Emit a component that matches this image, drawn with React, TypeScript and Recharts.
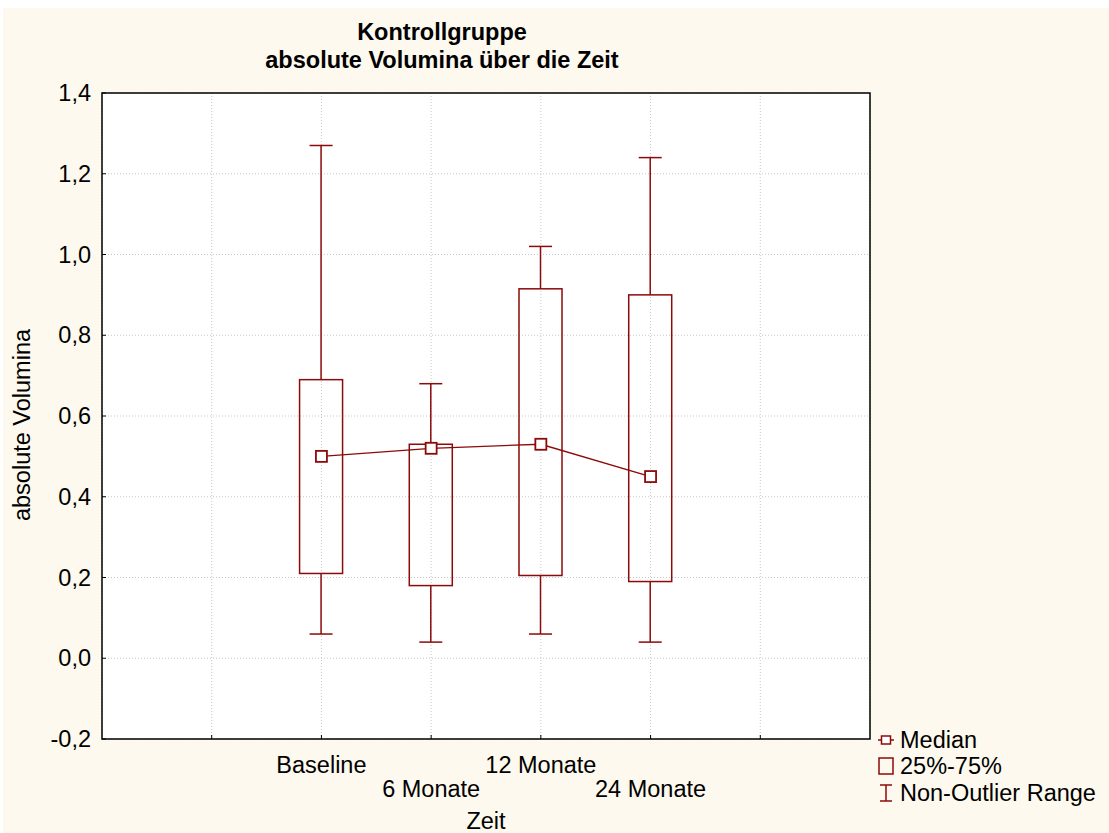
import React from 'react'
import { ComposedChart, Bar, Line, XAxis, YAxis, CartesianGrid, ReferenceArea } from 'recharts'

const categories = ['Baseline', '6 Monate', '12 Monate', '24 Monate']
const positions = [2, 3, 4, 5]
const minValues = [0.06, 0.04, 0.06, 0.04]
const q1Values = [0.21, 0.18, 0.205, 0.19]
const medianValues = [0.5, 0.52, 0.53, 0.45]
const q3Values = [0.69, 0.53, 0.915, 0.9]
const maxValues = [1.27, 0.68, 1.02, 1.24]
const yTicks = [-0.2, 0, 0.2, 0.4, 0.6, 0.8, 1.0, 1.2, 1.4]
const xTicks = [1, 2, 3, 4, 5, 6]

const RED = '#8C0A0A'
const FONT = '"Liberation Sans", Arial, sans-serif'
const FS = 23.5

const data = categories.map((name, i) => ({
  name,
  x: positions[i],
  min: minValues[i],
  q1: q1Values[i],
  median: medianValues[i],
  q3: q3Values[i],
  max: maxValues[i],
}))

const BoxShape = (props: any) => {
  const { x, y, width, height, payload } = props
  const top = Math.min(y, y + height)
  const bottom = Math.max(y, y + height)
  const span = payload.max - payload.min
  const toPx = (v: number) => bottom - ((v - payload.min) / span) * (bottom - top)
  const cx = x + width / 2
  const yq1 = toPx(payload.q1)
  const yq3 = toPx(payload.q3)
  const cap = 11.5
  return (
    <g stroke={RED} strokeWidth={1.5} fill="none">
      <line x1={cx} x2={cx} y1={top} y2={yq3} />
      <line x1={cx} x2={cx} y1={yq1} y2={bottom} />
      <line x1={cx - cap} x2={cx + cap} y1={top} y2={top} />
      <line x1={cx - cap} x2={cx + cap} y1={bottom} y2={bottom} />
      <rect x={x} y={yq3} width={width} height={yq1 - yq3} fill="none" />
    </g>
  )
}

const MedianDot = (props: any) => {
  const { cx, cy } = props
  return <rect x={cx - 5.5} y={cy - 5.5} width={11} height={11} fill="#fff" stroke={RED} strokeWidth={1.8} />
}

const renderYTick = ({ x, y, payload }: any) => (
  <g key={`y-${payload.value}`}>
    <line x1={x} x2={x + 4} y1={y} y2={y} stroke="#000" strokeWidth={1} />
    <text x={x - 11} y={y} dy={8} textAnchor="end" fill="#000" style={{ fontSize: FS, fontFamily: FONT }}>
      {Number(payload.value).toFixed(1).replace('.', ',')}
    </text>
  </g>
)

const renderXTick = ({ x, y, payload }: any) => {
  const idx = positions.indexOf(payload.value)
  return (
    <g key={`x-${payload.value}`}>
      <line x1={x} x2={x} y1={y} y2={y - 4} stroke="#000" strokeWidth={1} />
      {idx >= 0 && (
        <text x={x} y={y + (idx % 2 === 0 ? 34 : 58)} textAnchor="middle" fill="#000" style={{ fontSize: FS, fontFamily: FONT }}>
          {categories[idx]}
        </text>
      )}
    </g>
  )
}

const legendRow: React.CSSProperties = { position: 'absolute', left: 874, display: 'flex', alignItems: 'center', fontFamily: FONT, fontSize: FS, color: '#000', lineHeight: '26px' }

export default function App() {
  return (
    <div style={{ position: 'absolute', left: 3, top: 8, width: 1106, height: 825, background: '#FDF9EE' }}>
      <ComposedChart width={1106} height={825} data={data} margin={{ top: 85, right: 239, bottom: 0, left: 0 }}>
        <CartesianGrid fill="#fff" stroke="#c8c8c8" strokeDasharray="1 2" />
        <XAxis dataKey="x" type="number" domain={[0, 7]} ticks={xTicks} interval={0} height={94} tickSize={0} tickMargin={0} tickLine={false} axisLine={false} tick={renderXTick} />
        <YAxis type="number" domain={[-0.2, 1.4]} ticks={yTicks} interval={0} width={99} tickSize={0} tickMargin={0} tickLine={false} axisLine={false} tick={renderYTick} />
        <ReferenceArea x1={0} x2={7} y1={-0.2} y2={1.4} fill="none" stroke="#000" strokeWidth={1.5} ifOverflow="visible" />
        <Bar dataKey={(d: any) => [d.min, d.max]} barSize={43} shape={<BoxShape />} isAnimationActive={false} />
        <Line dataKey="median" stroke={RED} strokeWidth={1.3} dot={<MedianDot />} activeDot={false} isAnimationActive={false} />
        <text x={439} y={32} textAnchor="middle" style={{ fontSize: 23.5, fontWeight: 'bold', fontFamily: FONT }}>Kontrollgruppe</text>
        <text x={439} y={60} textAnchor="middle" style={{ fontSize: 23.5, fontWeight: 'bold', fontFamily: FONT }}>absolute Volumina über die Zeit</text>
        <text x={19} y={417} textAnchor="middle" dy={8} transform="rotate(-90 19 417)" style={{ fontSize: FS, fontFamily: FONT }}>absolute Volumina</text>
        <text x={483} y={821} textAnchor="middle" style={{ fontSize: FS, fontFamily: FONT }}>Zeit</text>
      </ComposedChart>
      <div style={{ ...legendRow, top: 719 }}>
        <svg width={18} height={16} style={{ marginRight: 5 }}>
          <line x1={1} x2={17} y1={8} y2={8} stroke={RED} strokeWidth={1.5} />
          <rect x={4.5} y={4} width={9} height={8} fill="#fff" stroke={RED} strokeWidth={1.5} />
        </svg>
        Median
      </div>
      <div style={{ ...legendRow, top: 745 }}>
        <svg width={18} height={20} style={{ marginRight: 5 }}>
          <rect x={2} y={2} width={14} height={16} fill="none" stroke={RED} strokeWidth={1.5} />
        </svg>
        25%-75%
      </div>
      <div style={{ ...legendRow, top: 772 }}>
        <svg width={18} height={20} style={{ marginRight: 5 }}>
          <line x1={9} x2={9} y1={2} y2={18} stroke={RED} strokeWidth={1.5} />
          <line x1={3} x2={15} y1={2} y2={2} stroke={RED} strokeWidth={1.5} />
          <line x1={3} x2={15} y1={18} y2={18} stroke={RED} strokeWidth={1.5} />
        </svg>
        Non-Outlier Range
      </div>
    </div>
  )
}
